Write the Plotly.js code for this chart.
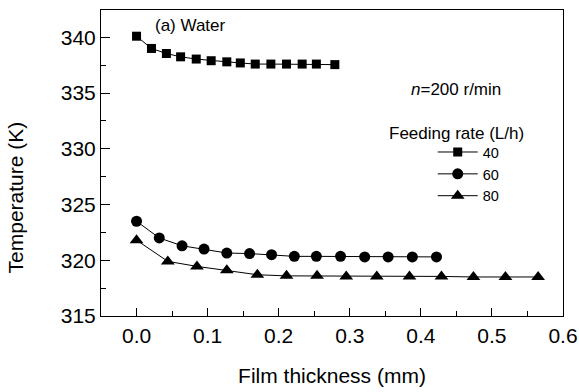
<!DOCTYPE html>
<html>
<head>
<meta charset="utf-8">
<script src="https://cdn.plot.ly/plotly-3.0.1.min.js"></script>
<style>
html,body{margin:0;padding:0;background:#fff;}
#chart{width:579px;height:392px;}
</style>
</head>
<body>
<div id="chart"></div>
<script>
// Film thickness (mm) and temperature (K) per feeding rate
const seriesNames = ["40", "60", "80"];
const x40 = [0.0, 0.021, 0.042, 0.062, 0.084, 0.105, 0.127, 0.146, 0.167, 0.189, 0.211, 0.233, 0.253, 0.279];
const y40 = [340.1, 339.0, 338.55, 338.25, 338.05, 337.9, 337.8, 337.7, 337.6, 337.6, 337.6, 337.6, 337.6, 337.55];
const x60 = [0.0, 0.032, 0.064, 0.095, 0.127, 0.159, 0.190, 0.222, 0.253, 0.287, 0.321, 0.354, 0.388, 0.422];
const y60 = [323.5, 322.0, 321.3, 321.0, 320.65, 320.6, 320.5, 320.35, 320.35, 320.35, 320.3, 320.3, 320.3, 320.3];
const x80 = [0.0, 0.044, 0.085, 0.127, 0.170, 0.211, 0.254, 0.295, 0.338, 0.384, 0.429, 0.474, 0.519, 0.565];
const y80 = [321.8, 319.9, 319.45, 319.1, 318.7, 318.6, 318.6, 318.55, 318.55, 318.55, 318.55, 318.5, 318.5, 318.5];
const xTitle = "Film thickness (mm)";
const yTitle = "Temperature (K)";
const panelLabel = "(a) Water";
const speedLabel = "<i>n</i>=200 r/min";
const legendTitle = "Feeding rate (L/h)";

const FONT = "Liberation Sans, Arial, Helvetica, sans-serif";
const xs = [x40, x60, x80];
const ys = [y40, y60, y80];
const symbols = ["square", "circle", "triangle-up"];
const sizes = [9, 11, 12];

const traces = seriesNames.map((n, i) => ({
  x: xs[i], y: ys[i], name: n, type: "scatter", mode: "lines+markers",
  line: {color: "#000", width: 1},
  marker: {symbol: symbols[i], size: sizes[i], color: "#000"}
}));

const axisCommon = {
  showline: true, linecolor: "#000", linewidth: 1, mirror: true,
  ticks: "inside", tickcolor: "#000", tickwidth: 1,
  showgrid: false, zeroline: false,
  tickfont: {family: FONT, size: 21, color: "#000"}
};

const layout = {
  width: 579, height: 392,
  margin: {l: 101, r: 16, t: 10, b: 76},
  paper_bgcolor: "#fff", plot_bgcolor: "#fff",
  font: {family: FONT, color: "#000"},
  showlegend: true,
  legend: {
    x: 0.718, y: 0.588, xanchor: "left", yanchor: "top",
    bgcolor: "rgba(0,0,0,0)", borderwidth: 0,
    font: {family: FONT, size: 14.5, color: "#000"},
    itemwidth: 40, tracegroupgap: 0
  },
  xaxis: Object.assign({}, axisCommon, {
    range: [-0.05, 0.6], tick0: 0, dtick: 0.1, ticklen: 8, tickformat: ".1f",
    ticklabelstandoff: 1,
    minor: {ticks: "inside", ticklen: 5, dtick: 0.05, tick0: 0, tickcolor: "#000"},
    title: {text: xTitle, font: {family: FONT, size: 21, color: "#000"}, standoff: 22}
  }),
  yaxis: Object.assign({}, axisCommon, {
    range: [315, 342.45], tick0: 315, dtick: 5, ticklen: 9,
    minor: {ticks: "inside", ticklen: 5, dtick: 2.5, tick0: 315, tickcolor: "#000"},
    title: {text: ""}
  }),
  annotations: [
    {text: panelLabel, xref: "paper", yref: "paper", x: 0.1126, y: 0.948,
     xanchor: "left", yanchor: "middle", showarrow: false,
     font: {family: FONT, size: 17, color: "#000"}},
    {text: speedLabel, xref: "paper", yref: "paper", x: 0.768, y: 0.739,
     xanchor: "center", yanchor: "middle", showarrow: false,
     font: {family: FONT, size: 17, color: "#000"}},
    {text: legendTitle, xref: "paper", yref: "paper", x: 0.619, y: 0.598,
     xanchor: "left", yanchor: "middle", showarrow: false,
     font: {family: FONT, size: 17, color: "#000"}},
    {text: yTitle, xref: "paper", yref: "paper", x: -0.183, y: 0.389,
     xanchor: "center", yanchor: "middle", textangle: -90, showarrow: false,
     font: {family: FONT, size: 21, color: "#000"}}
  ]
};

Plotly.newPlot("chart", traces, layout, {staticPlot: true, displayModeBar: false});
</script>
</body>
</html>
